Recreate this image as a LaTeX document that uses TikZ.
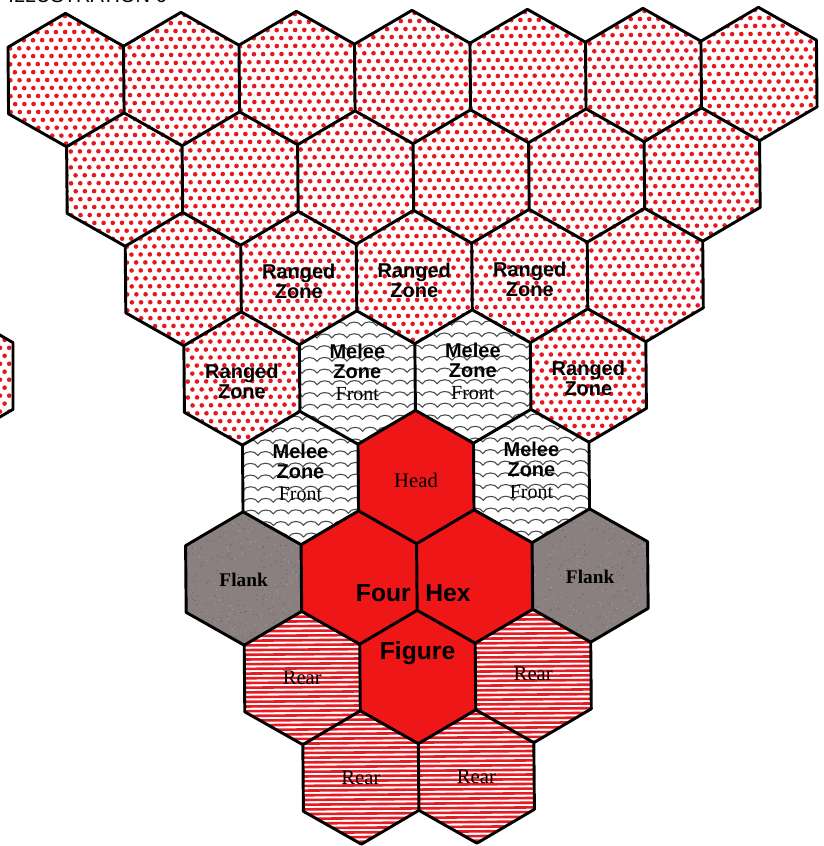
\documentclass[tikz,border=0pt]{standalone}
\usepackage{fontspec}
\setmainfont{Liberation Serif}
\setsansfont{Liberation Sans}

\definecolor{dotred}{RGB}{232,22,30}
\definecolor{hexred}{RGB}{238,22,22}
\definecolor{stripered}{RGB}{228,28,36}
\definecolor{flankgray}{RGB}{138,128,128}
\definecolor{wavegray}{RGB}{75,75,75}

% path of one pointy-top hexagon at lattice cell q (half columns), r (row)
\newcommand\hexp[2]{({416+57.75*(#1)},{477+100*((#2)-5)})
    +(0,-66.7) -- +(57.76,-33.35) -- +(57.76,33.35) -- +(0,66.7)
    -- +(-57.76,33.35) -- +(-57.76,-33.35) -- cycle }

\tikzset{
  hexline/.style={draw=black, line width=2.2pt, line join=round},
  redhex/.style={fill=hexred},
  flankhex/.style={fill=flankgray},
  sanslbl/.style={font=\sffamily\bfseries\fontsize{15}{15}\selectfont, align=center, inner sep=0pt, text=black},
  bigsans/.style={font=\sffamily\bfseries\fontsize{18.5}{18.5}\selectfont, inner sep=0pt, text=black},
  seriflbl/.style={font=\rmfamily\fontsize{15.5}{15.5}\selectfont, inner sep=0pt, text=black},
  flanklbl/.style={font=\rmfamily\bfseries\fontsize{14.5}{14.5}\selectfont, inner sep=0pt, text=black},
  meleelbl/.style={font=\sffamily\bfseries\fontsize{15}{15}\selectfont, align=center, inner sep=0pt, text=black}
}

\begin{document}
\begin{tikzpicture}[x=0.75pt, y=-0.75pt]
\useasboundingbox (0,0) rectangle (824,846);
\fill[white] (0,0) rectangle (824,846);
\clip (0,0) rectangle (824,846);

% title, cut off by the top edge
\node[anchor=base west, font=\sffamily\fontsize{15}{15}\selectfont, inner sep=0pt] (title) at (8,2.2) {ILLUSTRATION 6};

% partial hex of a neighbouring figure at the left edge
\begin{scope}
  \clip (-44.75,376) +(0,-66.7) -- +(57.76,-33.35) -- +(57.76,33.35) -- +(0,66.7) -- +(-57.76,33.35) -- +(-57.76,-33.35) -- cycle;
  \foreach \j in {0,...,20} { \fill[dotred] \foreach \i in {0,...,3} { ({\i*9.2+mod(\j,2)*4.6},{300+\j*7.97}) circle[radius=2.3] }; }
\end{scope}
\path[hexline] (-44.75,376) +(0,-66.7) -- +(57.76,-33.35) -- +(57.76,33.35) -- +(0,66.7) -- +(-57.76,33.35) -- +(-57.76,-33.35) -- cycle;

\begin{scope}[rotate around={0.5:(416,477)}]
  % ranged (dotted) hexes
  \begin{scope}
    \clip \hexp{-6}{1} \hexp{-4}{1} \hexp{-2}{1} \hexp{0}{1} \hexp{2}{1} \hexp{4}{1} \hexp{6}{1}
          \hexp{-5}{2} \hexp{-3}{2} \hexp{-1}{2} \hexp{1}{2} \hexp{3}{2} \hexp{5}{2}
          \hexp{-4}{3} \hexp{-2}{3} \hexp{0}{3} \hexp{2}{3} \hexp{4}{3}
          \hexp{-3}{4} \hexp{3}{4};
    \foreach \j in {0,...,57} { \fill[dotred] \foreach \i in {0,...,90} { ({\i*9.2+mod(\j,2)*4.6},{5+\j*7.97}) circle[radius=2.3] }; }
  \end{scope}
  % melee front (waves)
  \begin{scope}
    \clip \hexp{-1}{4} \hexp{1}{4} \hexp{-2}{5} \hexp{2}{5};
    \foreach \k in {0,...,22} { \draw[wavegray, line width=0.8pt] (228,{302+\k*11.7}) \foreach \h in {1,...,26} { .. controls +(2.5,-5.2) and +(-2.5,-5.2) .. ++(15,0) }; }
  \end{scope}
  % figure
  \path[redhex] \hexp{0}{5} \hexp{-1}{6} \hexp{1}{6} \hexp{0}{7};
  % flank
  \path[flankhex] \hexp{-3}{6} \hexp{3}{6};
  \begin{scope}
    \clip \hexp{-3}{6} \hexp{3}{6};
    \pgfmathsetseed{7}
    \foreach \m in {1,...,9} { \fill[flankgray!75!black] \foreach \n in {1,...,100} { ({415+rand*235},{577+rand*70}) circle[radius=0.6] }; }
    \foreach \m in {1,...,7} { \fill[flankgray!70!white] \foreach \n in {1,...,100} { ({415+rand*235},{577+rand*70}) circle[radius=0.55] }; }
  \end{scope}
  % rear (stripes)
  \begin{scope}
    \clip \hexp{-2}{7} \hexp{2}{7} \hexp{-1}{8} \hexp{1}{8};
    \foreach \k in {0,...,58} { \fill[stripered] (220,{605+\k*4.7}) rectangle (620,{605+\k*4.7+2.6}); }
  \end{scope}
  % outlines
  \path[hexline] \hexp{-6}{1} \hexp{-4}{1} \hexp{-2}{1} \hexp{0}{1} \hexp{2}{1} \hexp{4}{1} \hexp{6}{1}
          \hexp{-5}{2} \hexp{-3}{2} \hexp{-1}{2} \hexp{1}{2} \hexp{3}{2} \hexp{5}{2}
          \hexp{-4}{3} \hexp{-2}{3} \hexp{0}{3} \hexp{2}{3} \hexp{4}{3}
          \hexp{-3}{4} \hexp{-1}{4} \hexp{1}{4} \hexp{3}{4}
          \hexp{-2}{5} \hexp{0}{5} \hexp{2}{5}
          \hexp{-3}{6} \hexp{-1}{6} \hexp{1}{6} \hexp{3}{6}
          \hexp{-2}{7} \hexp{0}{7} \hexp{2}{7}
          \hexp{-1}{8} \hexp{1}{8};

  % labels
  \node[sanslbl] (rz1) at (300.5,280) {Ranged\\Zone};
  \node[sanslbl] (rz2) at (416,280) {Ranged\\Zone};
  \node[sanslbl] (rz3) at (531.5,280) {Ranged\\Zone};
  \node[sanslbl] (rz4) at (242.75,380) {Ranged\\Zone};
  \node[sanslbl] (rz5) at (589.25,380) {Ranged\\Zone};

  \node[meleelbl] (mz1) at (358.25,372) {Melee\\Zone\\[1.5pt]{\rmfamily\mdseries Front}};
  \node[meleelbl] (mz2) at (473.75,372) {Melee\\Zone\\[1.5pt]{\rmfamily\mdseries Front}};
  \node[meleelbl] (mz3) at (300.5,471) {Melee\\Zone\\[1.5pt]{\rmfamily\mdseries Front}};
  \node[meleelbl] (mz4) at (531.5,471) {Melee\\Zone\\[1.5pt]{\rmfamily\mdseries Front}};

  \node[seriflbl] (head) at (416,480) {Head};
  \node[flanklbl] (fl1) at (242.75,578) {Flank};
  \node[flanklbl] (fl2) at (589.25,578) {Flank};

  \node[bigsans, anchor=east] (four) at (410,593) {Four};
  \node[bigsans, anchor=west] (hex) at (424,593) {Hex};
  \node[bigsans] (figure) at (416,653) {Figure};

  \node[seriflbl] (rr1) at (300.5,677) {Rear};
  \node[seriflbl] (rr2) at (531.5,675) {Rear};
  \node[seriflbl] (rr3) at (358.25,777) {Rear};
  \node[seriflbl] (rr4) at (473.75,777) {Rear};
\end{scope}
\end{tikzpicture}
\end{document}
